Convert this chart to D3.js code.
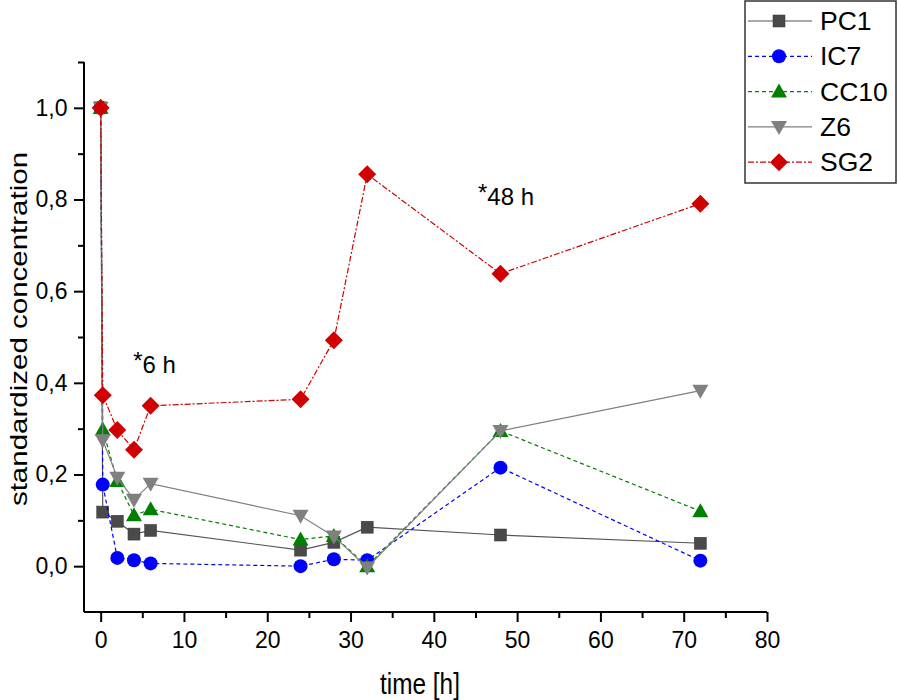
<!DOCTYPE html>
<html><head><meta charset="utf-8">
<script src="https://cdn.jsdelivr.net/npm/d3@7"></script>
<style>body{margin:0;background:#fff}svg{display:block}text{font-family:"Liberation Sans",Arial,sans-serif}</style>
</head><body>
<div id="chart"></div>
<script>
const times = [0, 0.25, 2, 4, 6, 24, 28, 32, 48, 72];
const PC1  = [1.0, 0.118, 0.098, 0.070, 0.078, 0.035, 0.052, 0.085, 0.068, 0.050];
const IC7  = [1.0, 0.178, 0.018, 0.013, 0.006, 0.000, 0.015, 0.013, 0.215, 0.012];
const CC10 = [1.0, 0.298, 0.186, 0.111, 0.124, 0.058, 0.066, 0.000, 0.295, 0.120];
const Z6   = [1.0, 0.275, 0.193, 0.145, 0.180, 0.110, 0.065, -0.003, 0.295, 0.383];
const SG2  = [1.0, 0.373, 0.297, 0.254, 0.350, 0.364, 0.493, 0.855, 0.638, 0.791];
const seriesNames = ["PC1", "IC7", "CC10", "Z6", "SG2"];
const xTicks = [0, 10, 20, 30, 40, 50, 60, 70, 80];
const yTicks = [0, 0.2, 0.4, 0.6, 0.8, 1.0];
const annotations = [{x: 3.9, y: 0.421, t: "6 h"}, {x: 45.3, y: 0.788, t: "48 h"}];

const W = 898, H = 700;
const svg = d3.select("#chart").append("svg").attr("width", W).attr("height", H);
const x = d3.scaleLinear().domain([-2, 80]).range([84, 767]);
const y = d3.scaleLinear().domain([-0.1, 1.1]).range([612, 62]);

const styles = {
  PC1:  {color: "#555555", fill: "#4a4a4a", dash: null, shape: "square"},
  IC7:  {color: "#0000ff", fill: "#0000ff", dash: "4,3", shape: "circle"},
  CC10: {color: "#008000", fill: "#008000", dash: "4,3", shape: "triangle"},
  Z6:   {color: "#808080", fill: "#808080", dash: null, shape: "tridown"},
  SG2:  {color: "#d00000", fill: "#d00000", dash: "6,2,2,2", shape: "diamond"}
};
const data = {PC1, IC7, CC10, Z6, SG2};

function marker(g, shape, cx, cy, fill) {
  if (shape === "square") g.append("rect").attr("x", cx-6).attr("y", cy-6).attr("width", 12).attr("height", 12).attr("fill", fill).attr("stroke", "#333").attr("stroke-width", 0.5);
  else if (shape === "circle") g.append("circle").attr("cx", cx).attr("cy", cy).attr("r", 7).attr("fill", fill);
  else if (shape === "triangle") g.append("path").attr("d", `M${cx},${cy-8}L${cx+8},${cy+6}L${cx-8},${cy+6}Z`).attr("fill", fill);
  else if (shape === "tridown") g.append("path").attr("d", `M${cx-8},${cy-6}L${cx+8},${cy-6}L${cx},${cy+8}Z`).attr("fill", fill);
  else if (shape === "diamond") g.append("path").attr("d", `M${cx},${cy-9}L${cx+9},${cy}L${cx},${cy+9}L${cx-9},${cy}Z`).attr("fill", fill);
}

// axes
const xAxis = d3.axisBottom(x).tickValues(xTicks).tickSize(10).tickFormat(d3.format("d"));
const gx = svg.append("g").attr("transform", "translate(0,612)").call(xAxis);
gx.select(".domain").attr("stroke-width", 2).attr("d", "M84,0H767");
gx.selectAll(".tick line").attr("stroke-width", 2);
gx.selectAll(".tick text").attr("font-size", 23).attr("dy", "1.0em");
const xMinor = d3.axisBottom(x).tickValues(d3.range(5, 80, 10)).tickSize(6).tickFormat("");
const gxm = svg.append("g").attr("transform", "translate(0,612)").call(xMinor);
gxm.select(".domain").remove();
gxm.selectAll(".tick line").attr("stroke-width", 2);

const yAxis = d3.axisLeft(y).tickValues(yTicks).tickSize(10).tickFormat(d => d3.format(".1f")(d).replace(".", ","));
const gy = svg.append("g").attr("transform", "translate(84,0)").call(yAxis);
gy.select(".domain").attr("stroke-width", 2).attr("d", "M0,62V612");
gy.selectAll(".tick line").attr("stroke-width", 2);
gy.selectAll(".tick text").attr("font-size", 23).attr("dx", "-0.15em");
const yMinor = d3.axisLeft(y).tickValues([0.1, 0.3, 0.5, 0.7, 0.9, 1.1]).tickSize(6).tickFormat("");
const gym = svg.append("g").attr("transform", "translate(84,0)").call(yMinor);
gym.select(".domain").remove();
gym.selectAll(".tick line").attr("stroke-width", 2);

// titles
svg.append("text").attr("transform", "translate(420,694) scale(0.84,1)").attr("text-anchor", "middle").attr("font-size", 29).text("time [h]");
svg.append("text").attr("transform", "translate(27,329) scale(0.84,1) rotate(-90)").attr("text-anchor", "middle").attr("font-size", 29.5).text("standardized concentration");

// series
const line = d3.line().x(d => x(d[0])).y(d => y(d[1]));
seriesNames.forEach(name => {
  const s = styles[name];
  const pts = times.map((t, i) => [t, data[name][i]]);
  svg.append("path").attr("d", line(pts)).attr("fill", "none").attr("stroke", s.color).attr("stroke-width", 1.2)
    .attr("stroke-dasharray", s.dash);
  const g = svg.append("g");
  pts.forEach(p => marker(g, s.shape, x(p[0]), y(p[1]), s.fill));
});

// annotations
annotations.forEach(a => {
  const t = svg.append("text").attr("x", x(a.x)).attr("y", y(a.y)).attr("font-size", 24);
  t.append("tspan").attr("font-size", 24).attr("dy", -4).text("*");
  t.append("tspan").attr("dy", 4).text(a.t);
});

// legend
const lg = svg.append("g");
lg.append("rect").attr("x", 745).attr("y", 1).attr("width", 151).attr("height", 182).attr("fill", "#fff").attr("stroke", "#333").attr("stroke-width", 1.5);
seriesNames.forEach((name, i) => {
  const s = styles[name];
  const cy = 21 + i * 35.3;
  lg.append("line").attr("x1", 748).attr("x2", 812).attr("y1", cy).attr("y2", cy).attr("stroke", s.color).attr("stroke-width", 1.2).attr("stroke-dasharray", s.dash);
  marker(lg, s.shape, 779, cy, s.fill);
  lg.append("text").attr("x", 820).attr("y", cy + 9).attr("font-size", 26.5).text(name);
});
</script>
</body></html>
